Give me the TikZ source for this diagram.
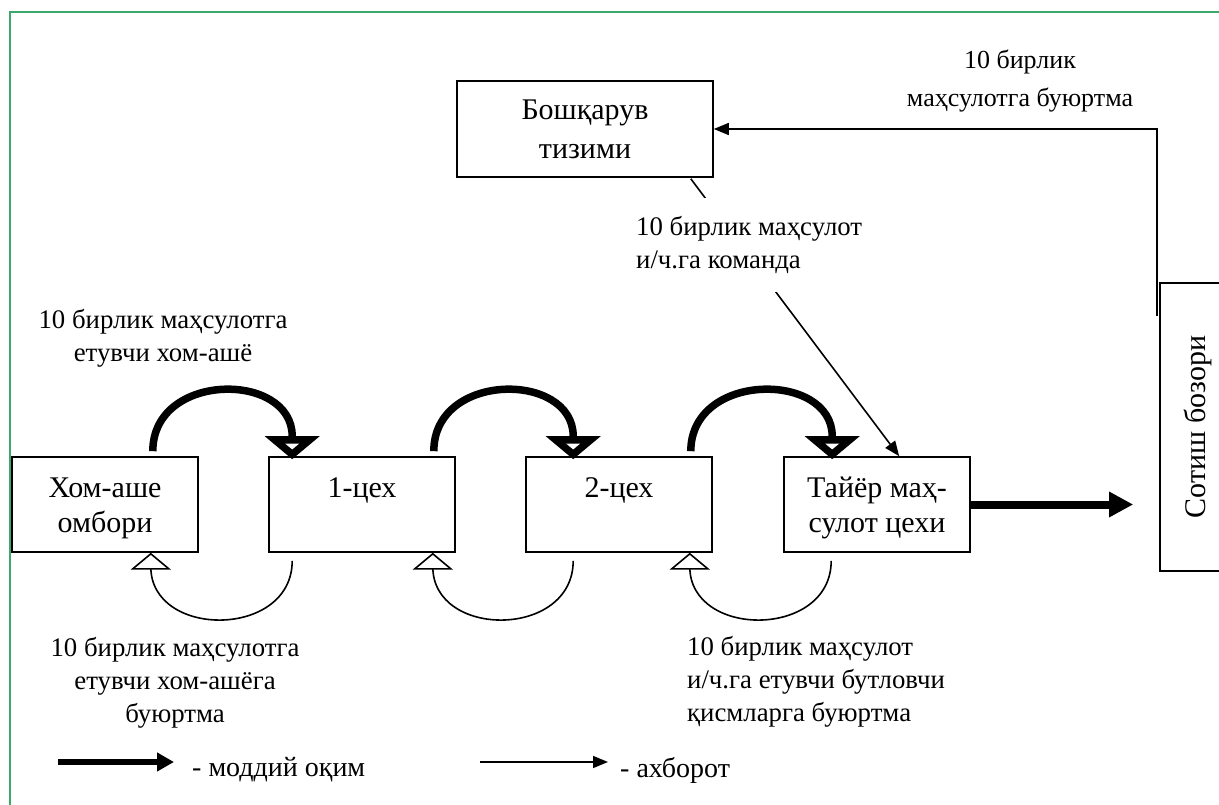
\documentclass[tikz,border=0pt]{standalone}
\usepackage{fontspec}
\setmainfont{Liberation Serif}
\usetikzlibrary{arrows.meta,calc}
\definecolor{frameGreen}{RGB}{60,168,108}
\tikzset{
  box/.style={draw, line width=1.6pt, minimum width=186pt, minimum height=95pt, inner sep=0pt},
  btext/.style={anchor=north, inner sep=0pt, align=center, font=\fontsize{30}{35}\selectfont},
  lbl/.style={inner sep=0pt, align=center, font=\fontsize{26.8}{33}\selectfont},
  legtext/.style={inner sep=0pt, anchor=west, font=\fontsize{28}{33}\selectfont},
  flow/.style={line width=7.5pt},
  bigflow/.style={line width=8pt, -{Triangle[length=24pt,width=24pt]}},
  legflow/.style={line width=6pt, -{Triangle[length=17pt,width=18pt]}},
  infoline/.style={line width=1.6pt},
  infoarrow/.style={line width=1.6pt, -{Triangle[length=15pt,width=12pt]}},
  thickhead/.pic={
    \fill[black] (-27.5,-23) -- (27.5,-23) -- (0,0) -- cycle;
    \fill[white] (-6.9,-15.5) -- (6.9,-15.5) -- (0,-9.8) -- cycle;
  },
  openhead/.pic={
    \filldraw[fill=white, draw=black, line width=1.6pt, line join=miter] (-18,15) -- (18,15) -- (0,0) -- cycle;
  }
}
\begin{document}
\begin{tikzpicture}[x=1pt,y=-1pt]
\useasboundingbox (0,0) rectangle (1219,805);
\fill[white] (0,0) rectangle (1219,805);
\draw[frameGreen, line width=2pt] (10,805) -- (10,12) -- (1219,12);

% boxes
\node[box] (raw) at (105,504.5) {};
\node[box] (c1) at (362,504.5) {};
\node[box] (c2) at (619,504.5) {};
\node[box] (tayor) at (877,504.5) {};
\node[btext] (rawt) at ($(raw.north)+(0,21)$) {Хом-аше\\омбори};
\node[btext] (c1t) at ($(c1.north)+(0,21)$) {1-цех};
\node[btext] (c2t) at ($(c2.north)+(0,21)$) {2-цех};
\node[btext] (tayort) at ($(tayor.north)+(0,21)$) {Тайёр маҳ-\\сулот цехи};

\node[box, minimum width=256pt, minimum height=96pt, align=center, font=\fontsize{30}{39}\selectfont] (ctrl) at (585,129) {Бошқарув\\тизими};
\node[box, minimum width=288pt, minimum height=76pt, rotate=90, font=\fontsize{30}{35}\selectfont] (market) at (1198,427) {Сотиш бозори};

% material flow arcs
\draw[flow] ($(raw.north east)+(-46,-5)$) .. controls +(0,-80) and +(0,-65) .. ($(c1.north west)+(24,-20)$);
\draw[flow] ($(c1.north east)+(-22,-5)$) .. controls +(0,-80) and +(0,-65) .. ($(c2.north west)+(48,-20)$);
\draw[flow] ($(c2.north east)+(-22,-5)$) .. controls +(0,-80) and +(0,-65) .. ($(tayor.north west)+(49,-20)$);
\pic at ($(c1.north west)+(24,3)$) {thickhead};
\pic at ($(c2.north west)+(48,3)$) {thickhead};
\pic at ($(tayor.north west)+(49,3)$) {thickhead};

% information arcs (orders)
\draw[infoline] ($(c1.south west)+(24,8)$) .. controls +(0,78) and +(0,72) .. ($(raw.south east)+(-48,14)$);
\draw[infoline] ($(c2.south west)+(48,8)$) .. controls +(0,78) and +(0,72) .. ($(c1.south east)+(-23,14)$);
\draw[infoline] ($(tayor.south west)+(48,8)$) .. controls +(0,78) and +(0,72) .. ($(c2.south east)+(-23,14)$);
\pic at ($(raw.south east)+(-48,1)$) {openhead};
\pic at ($(c1.south east)+(-23,1)$) {openhead};
\pic at ($(c2.south east)+(-23,1)$) {openhead};

% product to market
\draw[bigflow] (tayor.east) -- ($(tayor.east -| market.north)+(-26,0)$);

% order from market to control
\coordinate (m1) at ($(market.north east)+(-2,34)$);
\draw[infoarrow] (m1) |- (ctrl.east);

% command from control to finished-goods shop
\draw[infoarrow] ($(ctrl.south east)+(-23,1)$) -- ($(tayor.north west)+(116,0)$);
\node[lbl, align=left, fill=white, minimum height=94pt, anchor=west] (cmdlbl) at (636,245) {10 бирлик маҳсулот\\и/ч.га команда};

% labels
\node[lbl] (rawlbl) at (163,338.5) {10 бирлик маҳсулотга\\етувчи хом-ашё};
\node[lbl, font=\fontsize{26}{38}\selectfont] (mktlbl) at (1020,81) {10 бирлик\\маҳсулотга буюртма};
\node[lbl] (ordlbl) at (175,683) {10 бирлик маҳсулотга\\етувчи хом-ашёга\\буюртма};
\node[lbl, align=left, anchor=west] (partlbl) at (687,682) {10 бирлик маҳсулот\\и/ч.га етувчи бутловчи\\қисмларга буюртма};

% legend
\coordinate (lg1a) at (58,762);
\coordinate (lg1b) at (174,762);
\draw[legflow] (lg1a) -- (lg1b);
\node[legtext] (lg1t) at (192,770) {- моддий оқим};
\coordinate (lg2a) at (480,762);
\coordinate (lg2b) at (608,762);
\draw[infoarrow] (lg2a) -- (lg2b);
\node[legtext] (lg2t) at (620,770) {- ахборот};
\end{tikzpicture}
\end{document}
